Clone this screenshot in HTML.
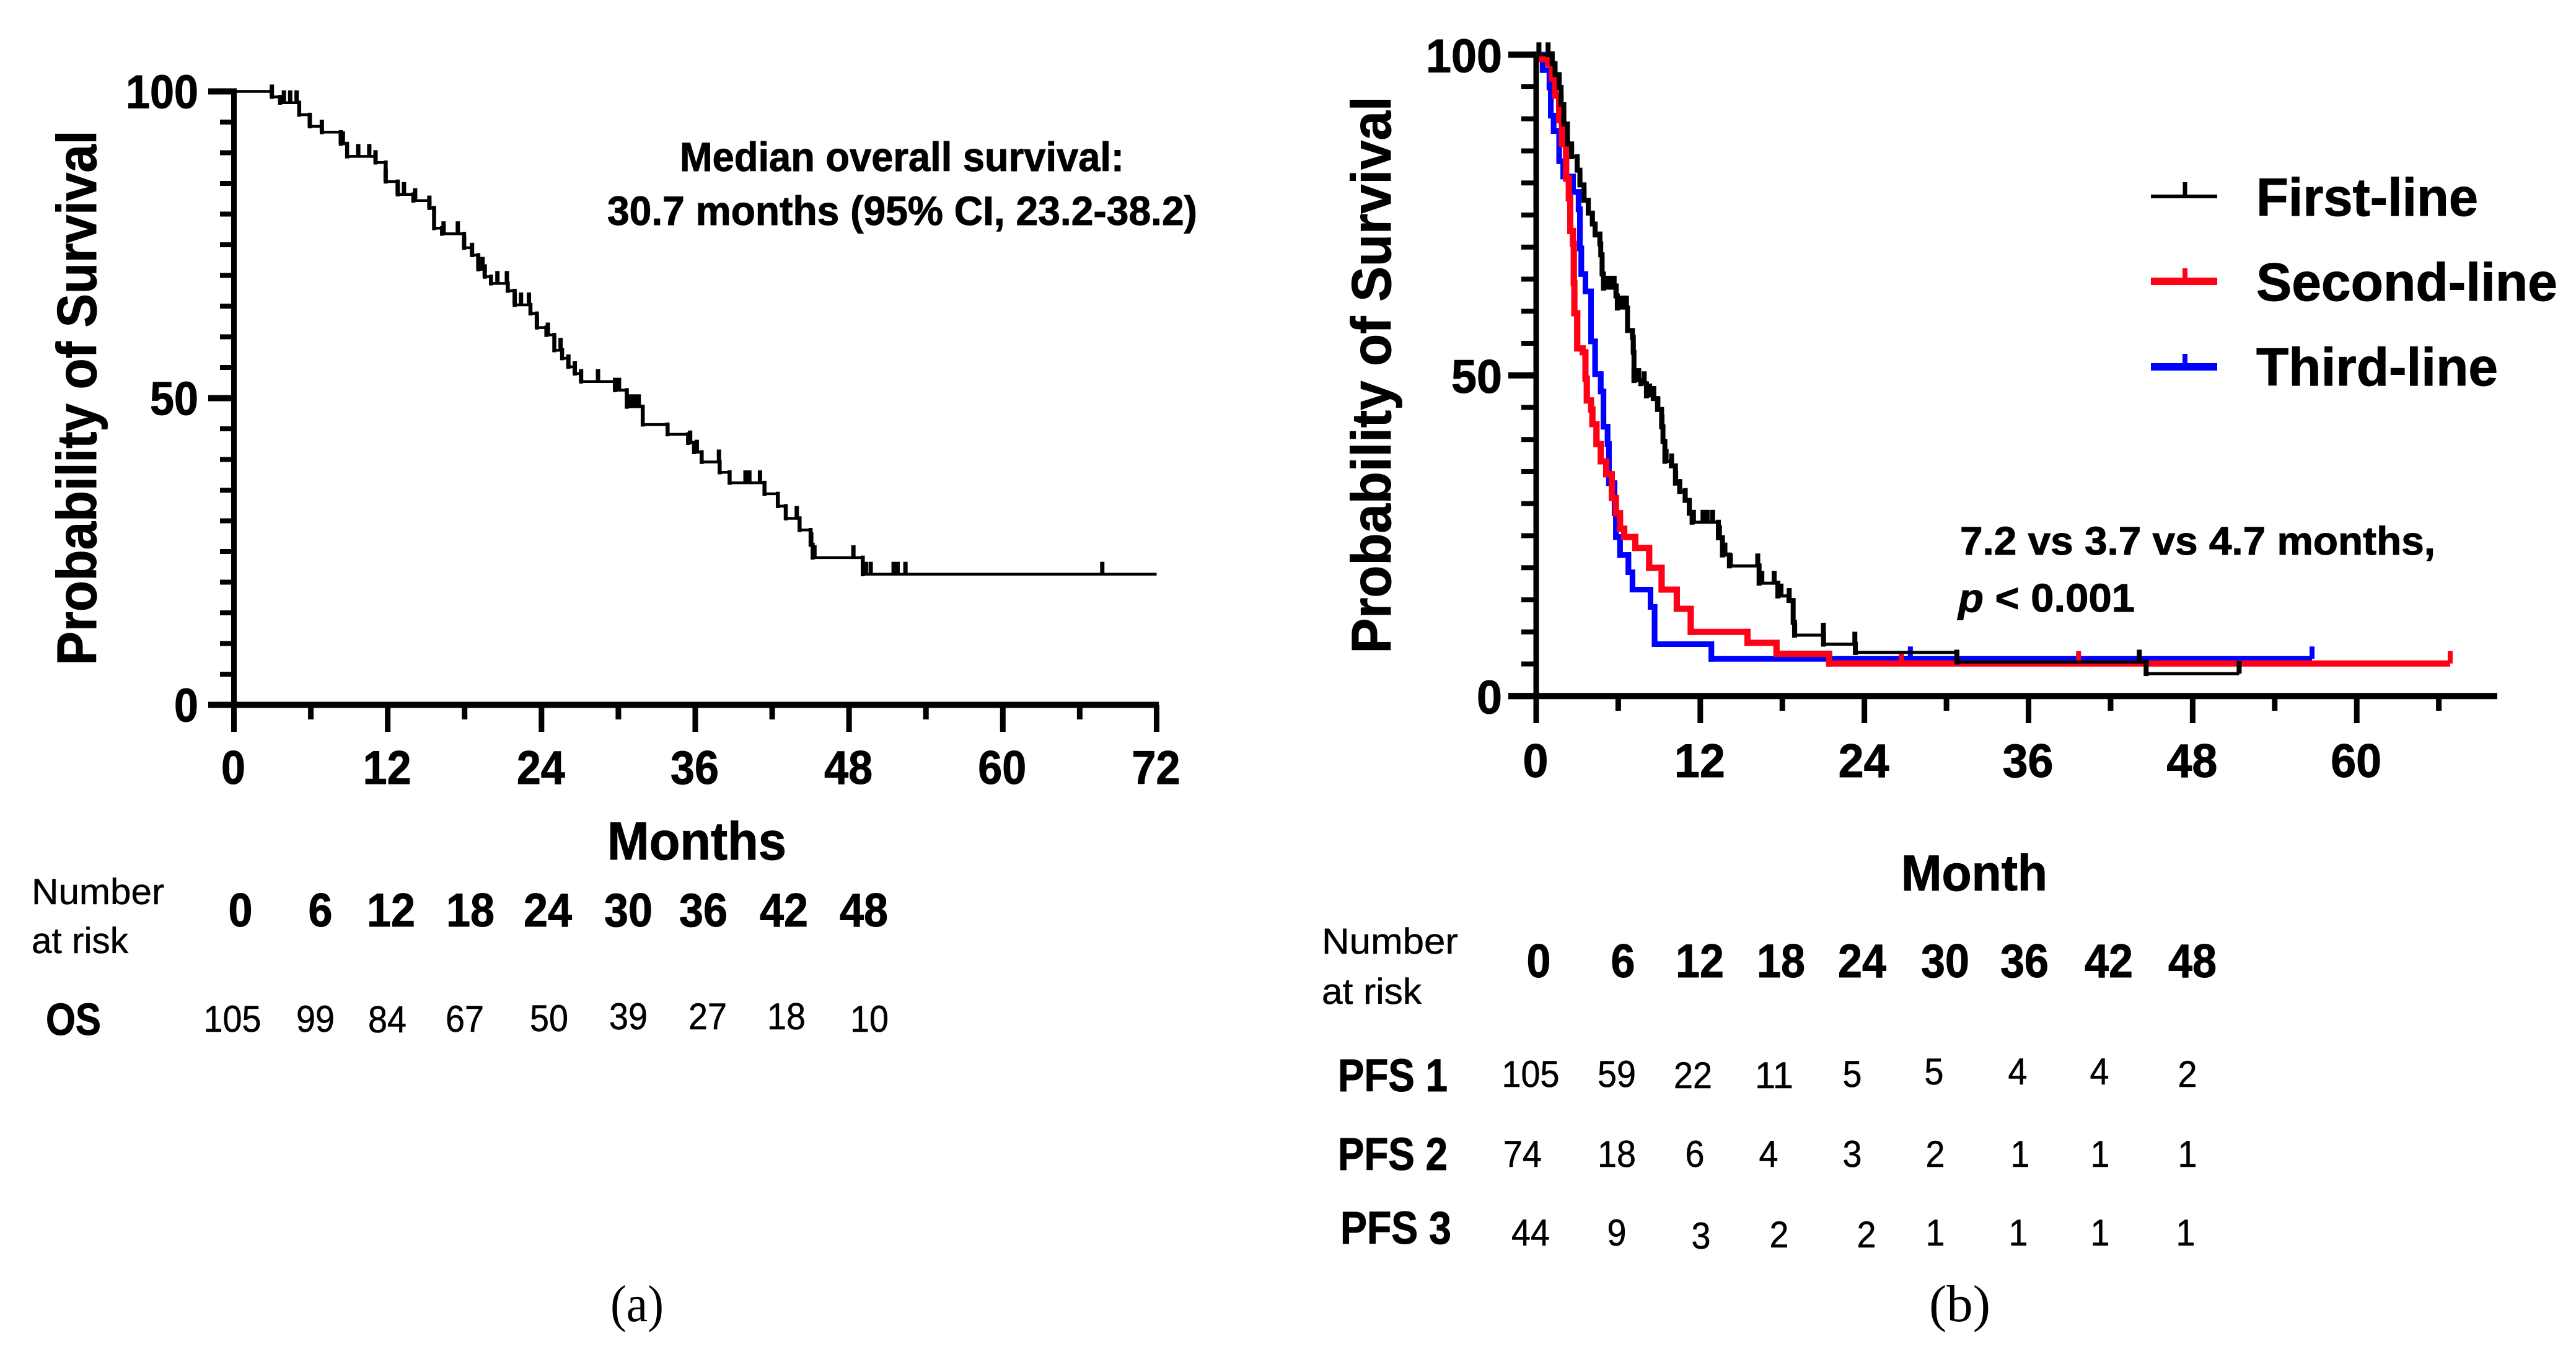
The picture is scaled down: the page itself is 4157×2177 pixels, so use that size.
<!DOCTYPE html>
<html lang="en">
<head>
<meta charset="utf-8">
<title>Kaplan-Meier survival curves</title>
<style>
  html, body { margin: 0; padding: 0; background: #fff; }
  svg { display: block; }
  text { font-family: "Liberation Sans", Arial, sans-serif; fill: #000; }
  .b { font-weight: 700; stroke: #000; stroke-width: 1px; }
  .hdr { font-weight: 700; font-size: 76px; text-anchor: middle; stroke: #000; stroke-width: 1px; }
  .val { font-size: 60px; text-anchor: middle; stroke: #000; stroke-width: 0.6px; }
  .lab { font-size: 58px; stroke: #000; stroke-width: 0.5px; }
  .ser { font-family: "Liberation Serif", serif; font-size: 84px; }
</style>
</head>
<body>
<svg id="fig" xmlns="http://www.w3.org/2000/svg" width="4157" height="2177" viewBox="0 0 4157 2177">
  <rect width="4157" height="2177" fill="#fff"/>

  <g id="panelA"></g>
  <g id="panelB"></g>

  <!-- Panel A text -->
  <text class="b" font-size="90" transform="translate(155,642) rotate(-90)" text-anchor="middle" textLength="863" lengthAdjust="spacingAndGlyphs">Probability of Survival</text>
  <text class="b" font-size="66" x="1097" y="276" textLength="717" lengthAdjust="spacingAndGlyphs">Median overall survival:</text>
  <text class="b" font-size="66" x="980" y="363" textLength="952" lengthAdjust="spacingAndGlyphs">30.7 months (95% CI, 23.2-38.2)</text>
  <text class="b" font-size="86" x="980" y="1387" textLength="289" lengthAdjust="spacingAndGlyphs">Months</text>

  <g>
    <text class="lab" x="51" y="1459" textLength="214" lengthAdjust="spacingAndGlyphs">Number</text>
    <text class="lab" x="51" y="1538" textLength="156" lengthAdjust="spacingAndGlyphs">at risk</text>
    <g>
      <text class="hdr" x="388" y="1495">0</text>
      <text class="hdr" x="517" y="1495">6</text>
      <text class="hdr" x="631" y="1495">12</text>
      <text class="hdr" x="759" y="1495">18</text>
      <text class="hdr" x="884" y="1495">24</text>
      <text class="hdr" x="1014" y="1495">30</text>
      <text class="hdr" x="1135" y="1495">36</text>
      <text class="hdr" x="1265" y="1495">42</text>
      <text class="hdr" x="1394" y="1495">48</text>
    </g>
    <text class="b" font-size="72" x="74" y="1670" textLength="89" lengthAdjust="spacingAndGlyphs">OS</text>
    <g>
      <text class="val" x="375" y="1665">105</text>
      <text class="val" x="509" y="1665">99</text>
      <text class="val" x="625" y="1666">84</text>
      <text class="val" x="750" y="1665">67</text>
      <text class="val" x="886" y="1664">50</text>
      <text class="val" x="1014" y="1661">39</text>
      <text class="val" x="1142" y="1661">27</text>
      <text class="val" x="1269" y="1661">18</text>
      <text class="val" x="1403" y="1665">10</text>
    </g>
  </g>
  <text class="ser" x="985" y="2132" textLength="86" lengthAdjust="spacingAndGlyphs">(a)</text>

  <!-- Panel B text -->
  <text class="b" font-size="90" transform="translate(2244,605) rotate(-90)" text-anchor="middle" textLength="899" lengthAdjust="spacingAndGlyphs">Probability of Survival</text>

  <g>
    <g>
      <line x1="3471" x2="3578" y1="317" y2="317" stroke="#000" stroke-width="6"/>
      <line x1="3526" x2="3526" y1="294" y2="317" stroke="#000" stroke-width="7"/>
      <text class="b" font-size="86" x="3641" y="348" textLength="358" lengthAdjust="spacingAndGlyphs">First-line</text>
    </g>
    <g>
      <line x1="3471" x2="3578" y1="454" y2="454" stroke="#ff0016" stroke-width="12"/>
      <line x1="3526" x2="3526" y1="433" y2="454" stroke="#ff0016" stroke-width="8"/>
      <text class="b" font-size="86" x="3641" y="485" textLength="486" lengthAdjust="spacingAndGlyphs">Second-line</text>
    </g>
    <g>
      <line x1="3471" x2="3578" y1="592" y2="592" stroke="#0000ff" stroke-width="12"/>
      <line x1="3526" x2="3526" y1="571" y2="592" stroke="#0000ff" stroke-width="8"/>
      <text class="b" font-size="86" x="3641" y="622" textLength="390" lengthAdjust="spacingAndGlyphs">Third-line</text>
    </g>
  </g>

  <text class="b" font-size="64" x="3163" y="895" textLength="767" lengthAdjust="spacingAndGlyphs">7.2 vs 3.7 vs 4.7 months,</text>
  <text class="b" font-size="64" x="3160" y="987" textLength="285" lengthAdjust="spacingAndGlyphs"><tspan font-style="italic">p</tspan> &lt; 0.001</text>
  <text class="b" font-size="82" x="3068" y="1437" textLength="236" lengthAdjust="spacingAndGlyphs">Month</text>

  <g>
    <text class="lab" x="2133" y="1539" textLength="220" lengthAdjust="spacingAndGlyphs">Number</text>
    <text class="lab" x="2133" y="1620" textLength="161" lengthAdjust="spacingAndGlyphs">at risk</text>
    <g>
      <text class="hdr" x="2483" y="1577">0</text>
      <text class="hdr" x="2619" y="1577">6</text>
      <text class="hdr" x="2743" y="1577">12</text>
      <text class="hdr" x="2874" y="1577">18</text>
      <text class="hdr" x="3005" y="1577">24</text>
      <text class="hdr" x="3139" y="1577">30</text>
      <text class="hdr" x="3267" y="1577">36</text>
      <text class="hdr" x="3403" y="1577">42</text>
      <text class="hdr" x="3538" y="1577">48</text>
    </g>
    <text class="b" font-size="74" x="2159" y="1761" textLength="177" lengthAdjust="spacingAndGlyphs">PFS 1</text>
    <g>
      <text class="val" x="2470" y="1754">105</text>
      <text class="val" x="2609" y="1754">59</text>
      <text class="val" x="2732" y="1756">22</text>
      <text class="val" x="2863" y="1756">11</text>
      <text class="val" x="2989" y="1754">5</text>
      <text class="val" x="3121" y="1750">5</text>
      <text class="val" x="3256" y="1750">4</text>
      <text class="val" x="3388" y="1750">4</text>
      <text class="val" x="3530" y="1754">2</text>
    </g>
    <text class="b" font-size="74" x="2159" y="1888" textLength="177" lengthAdjust="spacingAndGlyphs">PFS 2</text>
    <g>
      <text class="val" x="2457" y="1883">74</text>
      <text class="val" x="2609" y="1883">18</text>
      <text class="val" x="2735" y="1883">6</text>
      <text class="val" x="2854" y="1883">4</text>
      <text class="val" x="2989" y="1883">3</text>
      <text class="val" x="3123" y="1883">2</text>
      <text class="val" x="3260" y="1883">1</text>
      <text class="val" x="3389" y="1883">1</text>
      <text class="val" x="3530" y="1883">1</text>
    </g>
    <text class="b" font-size="74" x="2163" y="2007" textLength="179" lengthAdjust="spacingAndGlyphs">PFS 3</text>
    <g>
      <text class="val" x="2470" y="2010">44</text>
      <text class="val" x="2609" y="2010">9</text>
      <text class="val" x="2745" y="2015">3</text>
      <text class="val" x="2871" y="2013">2</text>
      <text class="val" x="3012" y="2013">2</text>
      <text class="val" x="3123" y="2010">1</text>
      <text class="val" x="3257" y="2010">1</text>
      <text class="val" x="3389" y="2010">1</text>
      <text class="val" x="3527" y="2010">1</text>
    </g>
  </g>
  <text class="ser" x="3113" y="2132" textLength="99" lengthAdjust="spacingAndGlyphs">(b)</text>
</svg>

<script>
// ---- Panel A data (overall survival) ----
var osMonths = [2.96,3.6,5.09,5.92,6.86,8.34,8.83,11.05,11.84,12.78,14.0,15.25,15.62,16.24,17.96,18.58,19.07,19.57,20.06,21.37,21.91,23.14,23.64,24.38,25.0,25.61,26.1,26.6,27.09,29.74,30.66,31.9,33.84,35.44,35.9,36.5,37.9,38.68,41.4,42.44,43.06,44.14,45.0,45.16,49.07];
var osSurvival = [99.1,98.15,96.2,94.3,93.35,91.46,89.4,88.4,85.3,83.2,82.2,81.0,77.7,76.8,74.5,73.3,71.0,69.8,68.7,67.5,65.2,63.8,61.5,60.3,57.8,56.5,55.1,54.0,52.7,51.3,48.6,45.7,44.1,42.7,41.2,39.6,37.9,36.2,34.4,32.4,30.4,28.5,26.1,24.0,21.3];
var osCensored = [2.96,3.9,4.39,4.89,5.92,6.86,8.34,8.5,9.7,10.56,11.05,11.84,12.78,13.27,14.14,15.25,16.36,17.47,17.96,18.58,19.07,19.4,19.57,20.56,21.3,21.91,22.4,23.02,23.64,24.5,25.49,26.1,26.6,27.09,28.41,29.74,30.05,30.7,30.82,31.13,31.43,31.59,35.6,36.12,37.85,39.92,40.22,41.05,43.92,45.05,45.3,48.34,49.1,49.32,49.69,51.48,51.79,52.4,67.76];
var osEnd = 72;

// ---- Panel B data (progression-free survival) ----
var firstMonths = [0.87,1.17,1.38,1.68,1.82,2.02,2.29,2.59,3.0,3.2,3.5,3.81,4.11,4.31,4.66,4.72,4.82,4.92,5.83,5.93,6.68,7.04,7.1,7.15,7.65,8.06,8.56,8.87,9.17,9.27,9.41,9.88,10.18,10.49,10.89,11.19,11.4,13.32,13.62,14.13,16.3,17.67,18.48,18.79,18.89,21.01,23.34,30.76,44.6];
var firstSurvival = [100,98.6,96.9,94.9,92.2,89.2,86.1,84.1,82.0,79.7,77.3,75.3,73.6,71.9,70.5,68.8,65.8,63.6,62.4,60.5,57.0,55.9,53.6,49.2,48.7,46.8,46.4,44.7,42.0,39.7,36.6,35.9,33.2,31.9,30.5,28.5,27.1,24.7,22.0,20.3,17.6,15.6,14.9,11.5,9.5,8.1,6.8,5.3,3.5];
var firstCensored = [0.2,0.87,1.17,1.38,1.68,1.82,2.02,2.29,2.59,3.0,3.2,3.5,3.81,4.11,4.31,4.66,4.82,5.0,5.2,5.45,5.7,5.85,6.0,6.2,6.4,6.6,7.1,7.15,7.5,7.9,8.3,8.6,8.9,9.2,9.5,9.9,10.2,10.5,10.9,11.2,11.5,12.2,12.5,12.9,13.4,13.8,14.2,16.2,16.5,17.4,17.9,18.5,18.9,21.0,23.3,30.76,44.1,51.4];
var firstEnd = 51.4;

var secondMonths = [0.1,0.87,1.17,1.38,1.68,1.88,2.19,2.39,2.49,2.69,2.75,2.79,3.0,3.4,3.6,3.7,4.01,4.11,4.41,4.72,5.12,5.53,5.83,6.13,6.44,7.25,8.26,9.17,10.28,11.3,15.45,17.57,21.42];
var secondSurvival = [99.3,98.6,96.3,93.6,89.8,86.1,80.7,77.6,72.5,70.5,64.4,59.7,54.2,53.6,49.5,46.1,44.7,42.4,39.3,36.6,34.6,30.9,28.5,26.1,24.8,23.1,20.0,16.6,13.6,10.0,8.3,6.6,5.08];
var secondCensored = [26.7,39.66,66.83];
var secondEnd = 66.83;

var thirdMonths = [0.47,0.97,1.07,1.28,1.68,1.98,2.69,3.1,3.2,3.3,3.6,4.01,4.31,4.72,4.92,5.22,5.32,5.73,5.83,6.13,6.74,7.04,8.36,8.66,12.81];
var thirdSurvival = [97.6,94.9,90.5,88.1,83.4,81.0,78.6,75.9,69.8,65.8,63.1,55.3,50.2,47.5,42.0,39.3,33.2,28.5,24.8,22.0,19.3,16.6,13.9,8.1,5.8];
var thirdCensored = [27.36,56.73];
var thirdEnd = 56.73;

// ---- Axis tick arrays ----
var yMajorTicks = [0,50,100];
var yMinorTicks = [5,10,15,20,25,30,35,40,45,55,60,65,70,75,80,85,90,95];
var xMajorTicksA = [0,12,24,36,48,60,72];
var xMinorTicksA = [6,18,30,42,54,66];
var xMajorTicksB = [0,12,24,36,48,60];
var xMinorTicksB = [6,18,30,42,54,66];

var SVGNS = 'http://www.w3.org/2000/svg';

function mk(parent, tag, attrs) {
  var node = document.createElementNS(SVGNS, tag);
  for (var k in attrs) { node.setAttribute(k, attrs[k]); }
  parent.appendChild(node);
  return node;
}

function scale(origin, factor) {
  return function (v) { return origin + factor * v; };
}

function survivalAt(times, surv, t) {
  var level = 100;
  for (var i = 0; i < times.length; i++) {
    if (times[i] <= t + 1e-9) { level = surv[i]; }
  }
  return level;
}

function drawCurve(parent, xf, yf, times, surv, censored, end, color, width, vertWidth, tickWidth) {
  var d = 'M' + xf(0).toFixed(1) + ' ' + yf(100).toFixed(1);
  var dv = '';
  var prev = 100;
  for (var i = 0; i < times.length; i++) {
    d += 'H' + xf(times[i]).toFixed(1) + 'V' + yf(surv[i]).toFixed(1);
    dv += 'M' + xf(times[i]).toFixed(1) + ' ' + yf(prev).toFixed(1) + 'V' + yf(surv[i]).toFixed(1);
    prev = surv[i];
  }
  d += 'H' + xf(end).toFixed(1);
  var line = mk(parent, 'path', { d: d, fill: 'none', stroke: color, 'stroke-width': width, 'stroke-linejoin': 'miter' });
  
  
  var drops = mk(parent, 'path', { d: dv, fill: 'none', stroke: color, 'stroke-width': vertWidth, 'stroke-linecap': 'square' });
  
  
  censored.forEach(function (t) {
    var py = yf(survivalAt(times, surv, t));
    var tick = mk(parent, 'line', { x1: xf(t), x2: xf(t), y1: py, y2: py - 20, stroke: color, 'stroke-width': tickWidth });
    
    
  });
}

function drawAxes(parent, xf, yf, xMajor, xMinor, xLabels, cfg) {
  var yAxis = mk(parent, 'line', { x1: xf(0), x2: xf(0), y1: yf(100) - 5, y2: cfg.majorBottom, stroke: '#000', 'stroke-width': 9 });
  
  
  var xAxis = mk(parent, 'line', { x1: cfg.majorLeft, x2: cfg.xEnd, y1: yf(0), y2: yf(0), stroke: '#000', 'stroke-width': 10 });
  
  

  yMajorTicks.forEach(function (v) {
    var t = mk(parent, 'line', { x1: cfg.majorLeft, x2: xf(0), y1: yf(v), y2: yf(v), stroke: '#000', 'stroke-width': 10 });
    
    
    var txt = String(v);
    var lab = mk(parent, 'text', { x: cfg.yLabelRight, y: yf(v) + cfg.yLabelDy, 'text-anchor': 'end', 'font-size': 76, 'font-weight': 700, stroke: '#000', 'stroke-width': 1, textLength: txt.length * cfg.digit, lengthAdjust: 'spacingAndGlyphs' });
    
    
    lab.textContent = txt;
  });
  yMinorTicks.forEach(function (v) {
    var t = mk(parent, 'line', { x1: cfg.minorLeft, x2: xf(0), y1: yf(v), y2: yf(v), stroke: '#000', 'stroke-width': 8 });
    
    
  });
  xMajor.forEach(function (m) {
    var t = mk(parent, 'line', { x1: xf(m), x2: xf(m), y1: yf(0), y2: cfg.majorBottom, stroke: '#000', 'stroke-width': 9 });
    
    
  });
  xLabels.forEach(function (m) {
    var txt = String(m);
    var lab = mk(parent, 'text', { x: xf(m) - 1, y: cfg.xLabelY, 'text-anchor': 'middle', 'font-size': 76, 'font-weight': 700, stroke: '#000', 'stroke-width': 1, textLength: txt.length * cfg.digit, lengthAdjust: 'spacingAndGlyphs' });
    
    
    lab.textContent = txt;
  });
  xMinor.forEach(function (m) {
    var t = mk(parent, 'line', { x1: xf(m), x2: xf(m), y1: yf(0), y2: cfg.minorBottom, stroke: '#000', 'stroke-width': 9 });
    
    
  });
}

// Panel A
var xA = scale(377.5, 20.68);
var yA = scale(1137.5, -9.9);
var panelA = document.getElementById('panelA');
drawCurve(panelA, xA, yA, osMonths, osSurvival, osCensored, osEnd, '#000', 4.5, 6.5, 7);
drawAxes(panelA, xA, yA, xMajorTicksA, xMinorTicksA, xMajorTicksA, {
  majorLeft: 336, minorLeft: 355, majorBottom: 1181, minorBottom: 1161, xEnd: 1870,
  yLabelRight: 320, yLabelDy: 27, xLabelY: 1265, digit: 39
});

// Panel B
var xB = scale(2479, 22.07);
var yB = scale(1123.3, -10.35);
var panelB = document.getElementById('panelB');
drawCurve(panelB, xB, yB, thirdMonths, thirdSurvival, thirdCensored, thirdEnd, '#0000ff', 9, 9, 8);
drawCurve(panelB, xB, yB, secondMonths, secondSurvival, secondCensored, secondEnd, '#ff0016', 10, 10, 8);
drawCurve(panelB, xB, yB, firstMonths, firstSurvival, firstCensored, firstEnd, '#000', 5, 8, 8);
drawAxes(panelB, xB, yB, xMajorTicksB, xMinorTicksB, xMajorTicksB, {
  majorLeft: 2434, minorLeft: 2455, majorBottom: 1167, minorBottom: 1147, xEnd: 4030,
  yLabelRight: 2424, yLabelDy: 28, xLabelY: 1254, digit: 41
});

// Narrow the at-risk numerals to the reference proportions
Array.prototype.forEach.call(document.querySelectorAll('.hdr'), function (t) {
  t.setAttribute('textLength', t.textContent.length * 39);
  t.setAttribute('lengthAdjust', 'spacingAndGlyphs');
});
Array.prototype.forEach.call(document.querySelectorAll('.val'), function (t) {
  t.setAttribute('textLength', t.textContent.length * 31);
  t.setAttribute('lengthAdjust', 'spacingAndGlyphs');
});
</script>
</body>
</html>
